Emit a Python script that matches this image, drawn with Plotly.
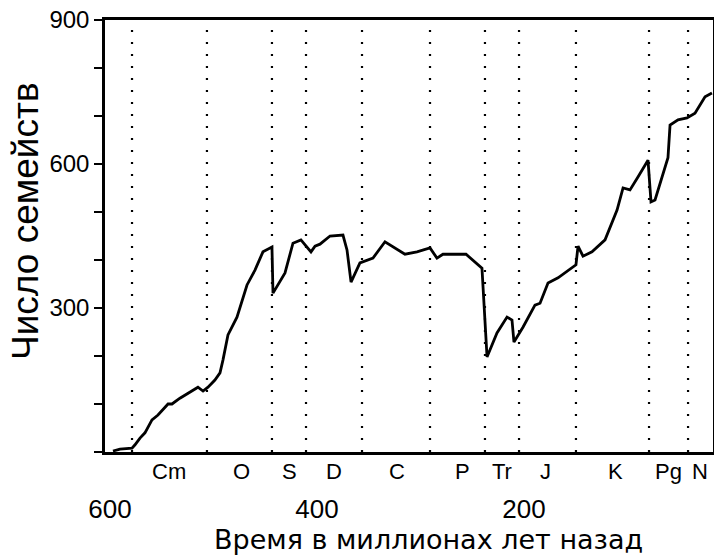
import plotly.graph_objects as go

# Time (million years ago) and number of families
age = [597.1, 590.3, 578.7, 575.8, 571.0, 566.2, 559.4, 553.6, 543.9, 540.1, 532.4, 524.6,
       515.0, 510.1, 505.3, 498.6, 493.7, 490.8, 486.0, 477.3, 467.6, 459.9, 452.2, 443.5,
       442.5, 430.9, 423.2, 415.5, 405.8, 401.9, 397.1, 387.4, 374.9, 371.0, 367.1, 358.5,
       345.9, 334.3, 315.0, 303.4, 290.8, 284.1, 278.3, 256.0, 240.6, 235.7, 226.1, 216.4,
       211.6, 209.7, 201.0, 189.4, 184.5, 176.8, 167.1, 149.8, 147.8, 143.0, 134.3, 121.7,
       110.1, 104.3, 97.6, 89.9, 80.2, 77.3, 73.4, 60.9, 58.9, 51.2, 42.5, 34.8, 25.1, 18.4]
families = [2, 6, 8, 15, 29, 40, 67, 77, 100, 100, 112, 123,
            135, 127, 135, 150, 165, 192, 244, 281, 348, 379, 417, 427,
            331, 373, 435, 442, 417, 429, 433, 450, 452, 421, 354, 394,
            404, 438, 412, 417, 425, 404, 412, 412, 383, 198, 248, 281,
            275, 229, 260, 306, 310, 352, 363, 390, 429, 408, 417, 442,
            504, 550, 546, 573, 608, 521, 525, 613, 681, 692, 696, 706, 740, 748]

# Period boundaries (dotted lines) and period labels
boundaries = [578.7, 506.3, 443.5, 410.6, 356.5, 290.8, 237.7, 204.8, 149.8, 79.2, 41.5]
period_names = ["Cm", "O", "S", "D", "C", "P", "Tr", "J", "K", "Pg", "N"]
period_pos = [543, 473, 427, 383.6, 322.7, 259, 221, 179.7, 112, 60, 30]

x_ticks = [600, 400, 200]
y_ticks = [300, 600, 900]

FONT = "Arial, Liberation Sans, sans-serif"
WIDE = "DejaVu Sans, Arial, sans-serif"

W, H = 714, 556
L, R, T, B = 105, 1, 20, 104
pw, ph = W - L - R, H - T - B

fig = go.Figure()
fig.add_trace(go.Scatter(x=age, y=families, mode="lines",
                         line=dict(color="black", width=2.8), showlegend=False,
                         hoverinfo="skip"))

for b in boundaries:
    fig.add_shape(type="line", xref="x", yref="paper", x0=b, x1=b, y0=0, y1=0.99,
                  line=dict(color="black", width=2.2, dash="2px,10px"), layer="below")

for name, pos in zip(period_names, period_pos):
    fig.add_annotation(x=pos, xref="x", y=-0.044, yref="paper", text=name,
                       showarrow=False, xanchor="center", yanchor="middle",
                       font=dict(family=FONT, size=22, color="black"))

# pixel positions for titles -> paper coordinates
def px(xp):
    return (xp - L) / pw

def py(yp):
    return (H - B - yp) / ph

fig.add_annotation(x=px(428), xref="paper", y=py(539), yref="paper",
                   text="Время в миллионах лет назад", showarrow=False,
                   xanchor="center", yanchor="middle",
                   font=dict(family=WIDE, size=27, color="black"))
fig.add_annotation(x=px(25), xref="paper", y=py(221), yref="paper", text="Число семейств",
                   textangle=-90, showarrow=False, xanchor="center", yanchor="middle",
                   font=dict(family=FONT, size=37, color="black"))

fig.update_layout(
    width=W, height=H,
    margin=dict(l=L, r=R, t=T, b=B, autoexpand=False),
    plot_bgcolor="white", paper_bgcolor="white",
    font=dict(family=FONT, color="black"),
    xaxis=dict(range=[604.8, 17.4], tickvals=x_ticks, ticktext=[str(v) for v in x_ticks],
               ticks="", showgrid=False, zeroline=False, showline=True, mirror=True,
               linecolor="black", linewidth=2.5, ticklabelstandoff=32, automargin=False,
               tickfont=dict(family=FONT, size=26, color="black")),
    yaxis=dict(range=[0, 900], tickvals=y_ticks, ticktext=[str(v) for v in y_ticks],
               ticks="outside", ticklen=8, tickwidth=2, tickcolor="black",
               minor=dict(dtick=100, tick0=0, ticks="outside", ticklen=8, tickwidth=2,
                          tickcolor="black", showgrid=False),
               showgrid=False, zeroline=False, showline=True, mirror=True,
               linecolor="black", linewidth=2.5, automargin=False,
               tickfont=dict(family=FONT, size=24, color="black")),
)

fig.write_html("out.html", config={"displayModeBar": False},
               post_script="document.body.style.margin='0';document.body.style.overflow='hidden';")
